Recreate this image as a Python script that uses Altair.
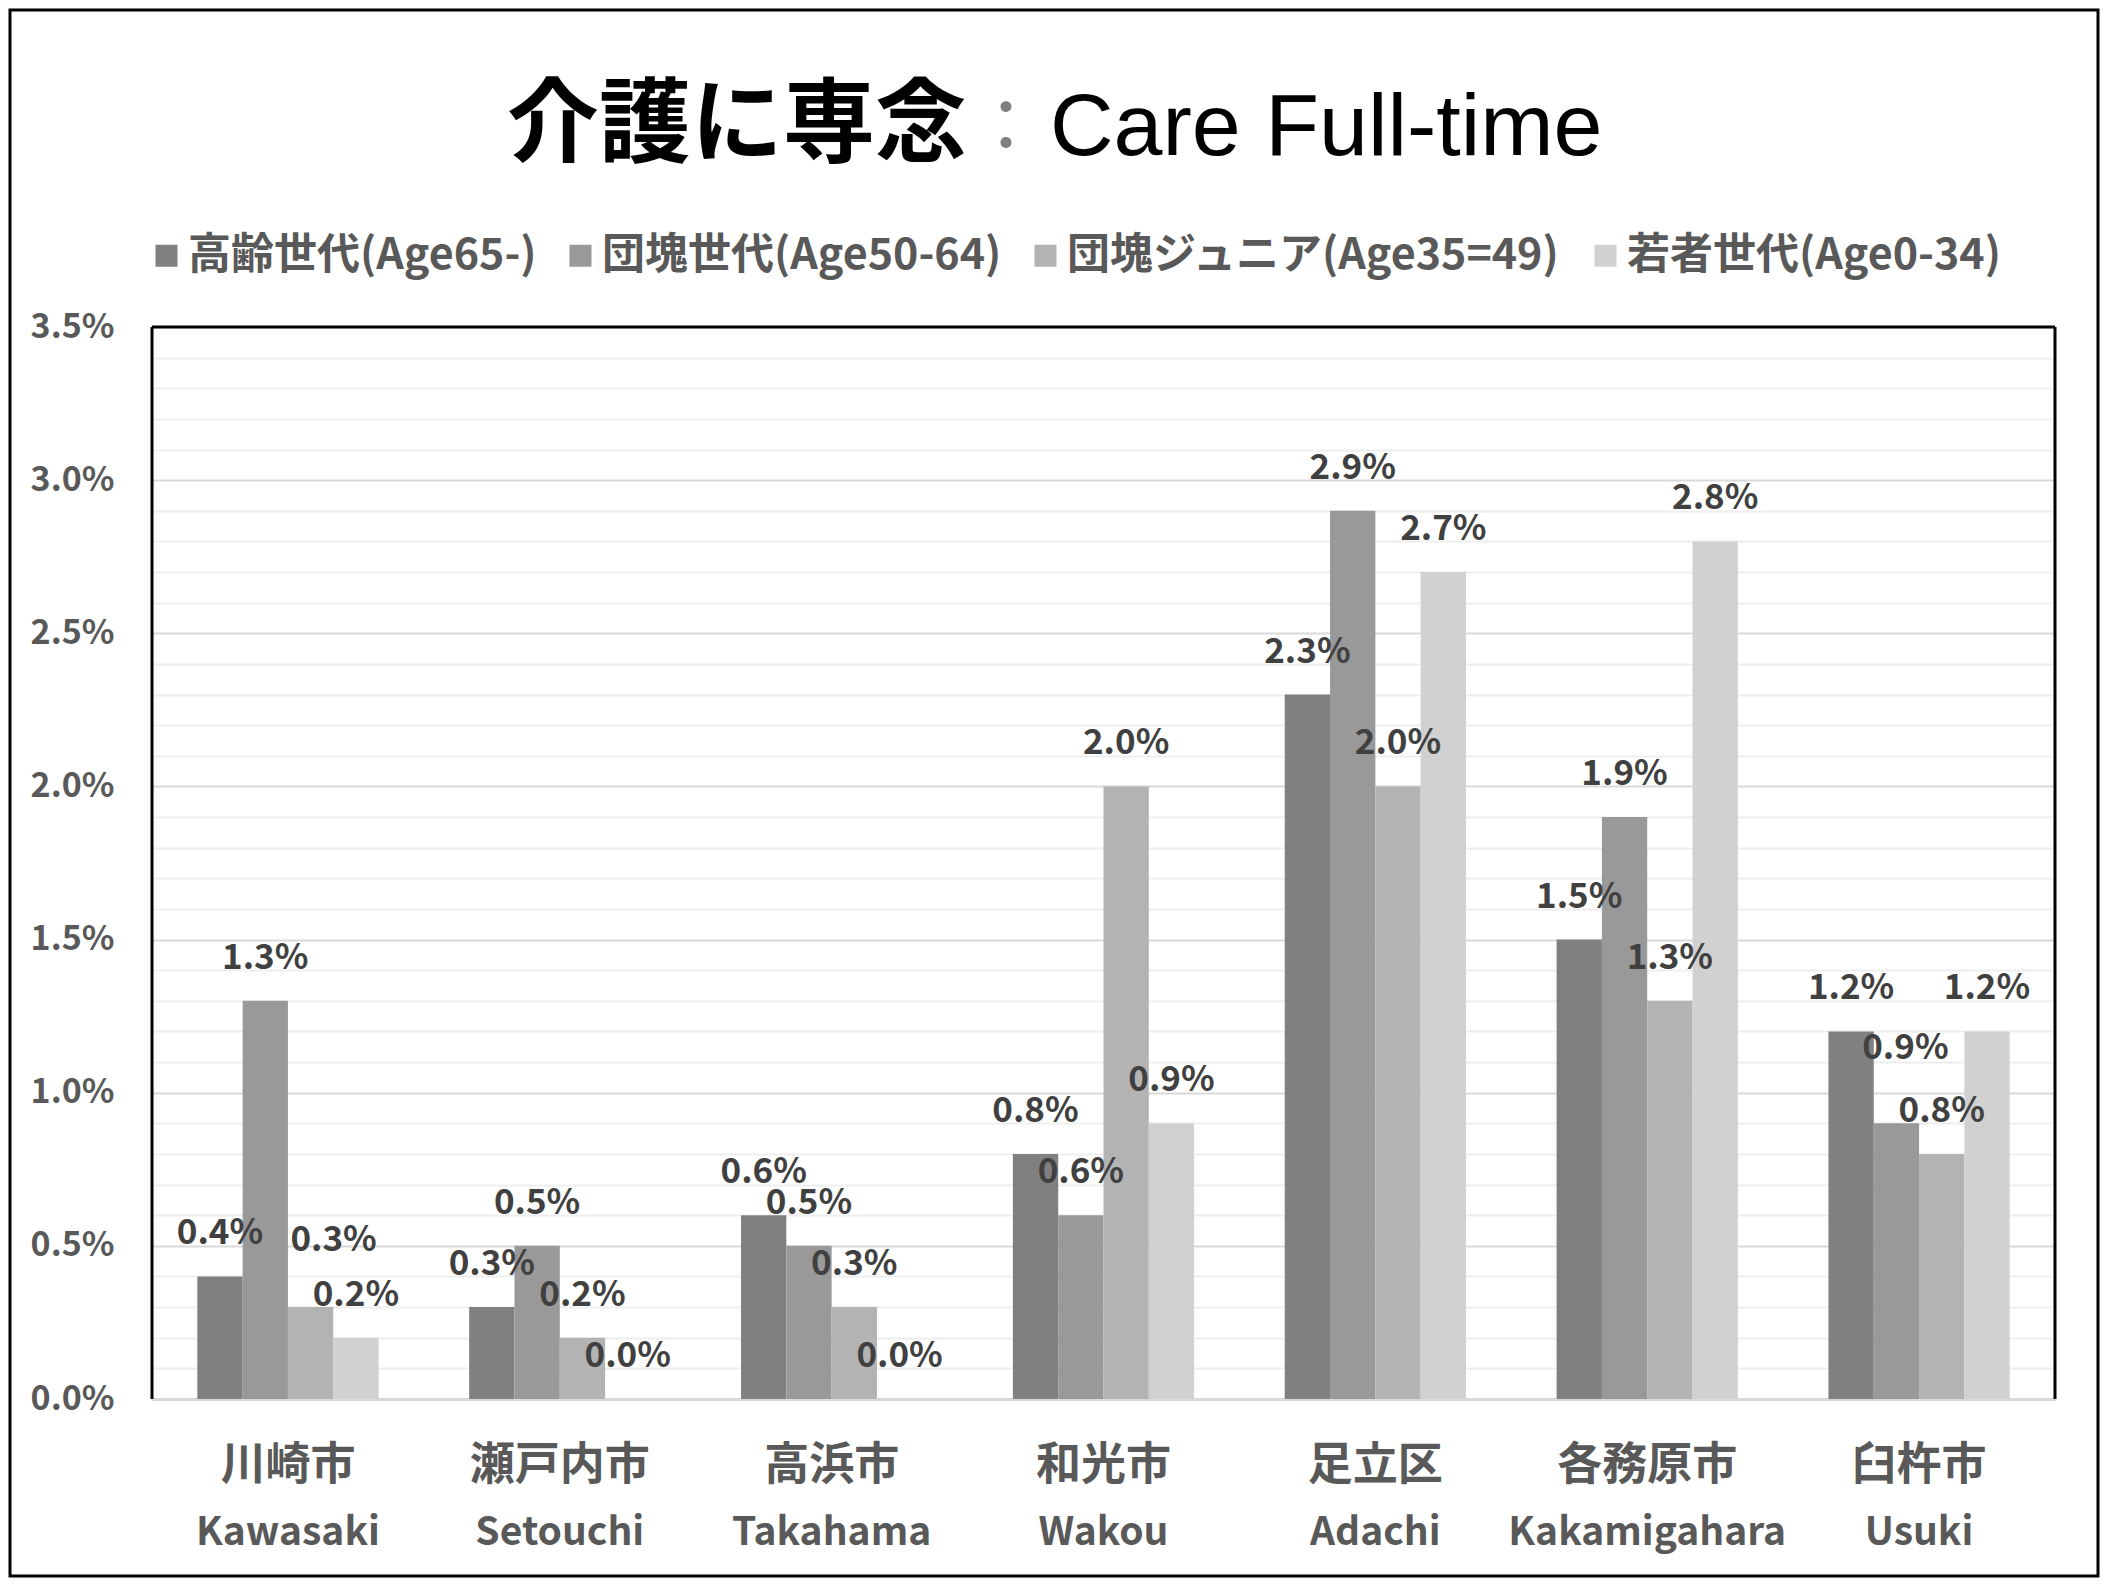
import altair as alt
import pandas as pd

# ---- data ----
cities_jp = ["川崎市", "瀬戸内市", "高浜市", "和光市", "足立区", "各務原市", "臼杵市"]
cities_en = ["Kawasaki", "Setouchi", "Takahama", "Wakou", "Adachi", "Kakamigahara", "Usuki"]
series = ["高齢世代(Age65-)", "団塊世代(Age50-64)", "団塊ジュニア(Age35=49)", "若者世代(Age0-34)"]
elderly = [0.004, 0.003, 0.006, 0.008, 0.023, 0.015, 0.012]
boomers = [0.013, 0.005, 0.005, 0.006, 0.029, 0.019, 0.009]
junior = [0.003, 0.002, 0.003, 0.020, 0.020, 0.013, 0.008]
young = [0.002, 0.000, 0.000, 0.009, 0.027, 0.028, 0.012]
y_major = [0.0, 0.005, 0.010, 0.015, 0.020, 0.025, 0.030, 0.035]
y_minor = [0.001, 0.002, 0.003, 0.004, 0.006, 0.007, 0.008, 0.009,
           0.011, 0.012, 0.013, 0.014, 0.016, 0.017, 0.018, 0.019,
           0.021, 0.022, 0.023, 0.024, 0.026, 0.027, 0.028, 0.029,
           0.031, 0.032, 0.033, 0.034]

colors = ["#808080", "#999999", "#b3b3b3", "#d1d1d1"]
title_bold = "介護に専念"
title_colon = "："
title_rest = "Care Full-time"

# label nudges (dx, dy) for labels moved off their bars in the reference
nudges = {("川崎市", series[2]): (23, -24), ("臼杵市", series[1]): (9, -32)}

FONT = "Noto Sans CJK JP"
W, H = 1903, 1072
PAD = {"left": 144, "top": 319, "right": 45, "bottom": 179}

rows = []
values = [elderly, boomers, junior, young]
for i, jp in enumerate(cities_jp):
    for s, vals in zip(series, values):
        rows.append({
            "city": jp,
            "series": s,
            "value": vals[i],
            "nudge": "%s|%s" % (jp, s) if (jp, s) in nudges else "",
        })
df = pd.DataFrame(rows)
df_en = pd.DataFrame({"city": cities_jp, "en": cities_en})

y_scale = alt.Scale(domain=[0, 0.035], nice=False)
x_scale = alt.Scale(domain=cities_jp, paddingInner=0.3333, paddingOuter=0.16667)
xoff_enc = alt.XOffset("series:N", sort=series, scale=alt.Scale(paddingInner=0, paddingOuter=0))
x_plain = alt.X("city:N", sort=cities_jp, scale=x_scale)
y_plain = alt.Y("value:Q", scale=y_scale, axis=None)

base = alt.Chart(df)

bars = base.mark_bar().encode(
    x=alt.X("city:N", sort=cities_jp, scale=x_scale,
            axis=alt.Axis(title=None, labelAngle=0, labelAlign="center", ticks=False,
                          domainColor="#d9d9d9", domainWidth=3,
                          labelFont=FONT, labelFontSize=45, labelFontWeight="bold",
                          labelColor="#595959", labelPadding=44, labelLimit=1000)),
    xOffset=xoff_enc,
    y=alt.Y("value:Q", scale=y_scale,
            axis=alt.Axis(title=None, values=y_major, format=".1%",
                          labelOverlap=False, ticks=False, domain=False,
                          labelFont=FONT, labelFontSize=34, labelFontWeight="bold",
                          labelColor="#595959", labelPadding=38,
                          gridWidth=2, gridColor="#d9d9d9")),
    color=alt.Color("series:N", sort=series,
                    scale=alt.Scale(domain=series, range=colors),
                    legend=alt.Legend(title=None, orient="none", direction="horizontal",
                                      columns=4, legendX=-7, legendY=-93, padding=0,
                                      symbolType="square", symbolSize=484,
                                      symbolStrokeWidth=0, labelFont=FONT,
                                      labelFontSize=43, labelFontWeight="bold",
                                      labelColor="#595959", labelLimit=1000,
                                      labelOffset=0, columnPadding=22)),
)

# minor gridlines only (transparent bars carry a second, label-less axis)
minor = base.mark_bar(opacity=0).encode(
    x=x_plain,
    xOffset=xoff_enc,
    y=alt.Y("value:Q", scale=y_scale,
            axis=alt.Axis(title=None, orient="right", values=y_minor, labels=False,
                          ticks=False, domain=False, grid=True,
                          gridColor="#eeeeee", gridWidth=2)),
)

label_kw = dict(baseline="middle", font=FONT, fontSize=35, fontWeight="bold", color="#404040")
text_enc = dict(x=x_plain, xOffset=xoff_enc, y=y_plain,
                text=alt.Text("value:Q", format=".1%"))

labels = base.mark_text(dy=-43, **label_kw).encode(**text_enc).transform_filter("datum.nudge === ''")
layers = [bars, minor, labels]
for (jp, s), (ndx, ndy) in nudges.items():
    key = "%s|%s" % (jp, s)
    layers.append(base.mark_text(dx=ndx, dy=-43 + ndy, **label_kw).encode(**text_enc)
                  .transform_filter(alt.datum.nudge == key))

en_labels = alt.Chart(df_en).mark_text(baseline="middle", font=FONT, fontSize=39,
                                       fontWeight="bold", color="#595959").encode(
    x=x_plain,
    y=alt.value(H + 134),
    text="en:N",
)

one = alt.Chart(pd.DataFrame({"k": [0]}))
t1 = one.mark_text(align="right", baseline="alphabetic", font=FONT, fontWeight="bold",
                   fontSize=92, color="black").encode(
    x=alt.value(815), y=alt.value(-172), text=alt.value(title_bold))
t2 = one.mark_text(align="left", baseline="alphabetic", font=FONT,
                   fontSize=72, color="#7f7f7f").encode(
    x=alt.value(818), y=alt.value(-176), text=alt.value(title_colon))
t3 = one.mark_text(align="left", baseline="alphabetic", font="Liberation Sans",
                   fontSize=88, color="black").encode(
    x=alt.value(898), y=alt.value(-172), text=alt.value(title_rest))
frame = one.mark_rect(fill=None, fillOpacity=0, stroke="black", strokeWidth=3).encode(
    x=alt.value(-PAD["left"] + 2), x2=alt.value(W + PAD["right"] - 2),
    y=alt.value(-PAD["top"] + 2), y2=alt.value(H + PAD["bottom"] - 2))

# plot-area border: black on left, top and right (bottom is the grey axis line)
edge_kw = dict(color="black", strokeWidth=3)
edge_left = one.mark_rule(**edge_kw).encode(
    x=alt.value(0), y=alt.value(0), y2=alt.value(H))
edge_right = one.mark_rule(**edge_kw).encode(
    x=alt.value(W), y=alt.value(0), y2=alt.value(H))
edge_top = one.mark_rule(**edge_kw).encode(
    x=alt.value(0), x2=alt.value(W), y=alt.value(0))

chart = alt.layer(*layers, en_labels, t1, t2, t3, frame,
                  edge_left, edge_right, edge_top).resolve_axis(
    y="independent"
).properties(
    width=W, height=H,
    autosize=alt.AutoSizeParams(type="none"),
    padding=PAD,
    background="white",
).configure_view(strokeWidth=0)

chart.save("out.html", embed_options={"renderer": "svg", "actions": False})
